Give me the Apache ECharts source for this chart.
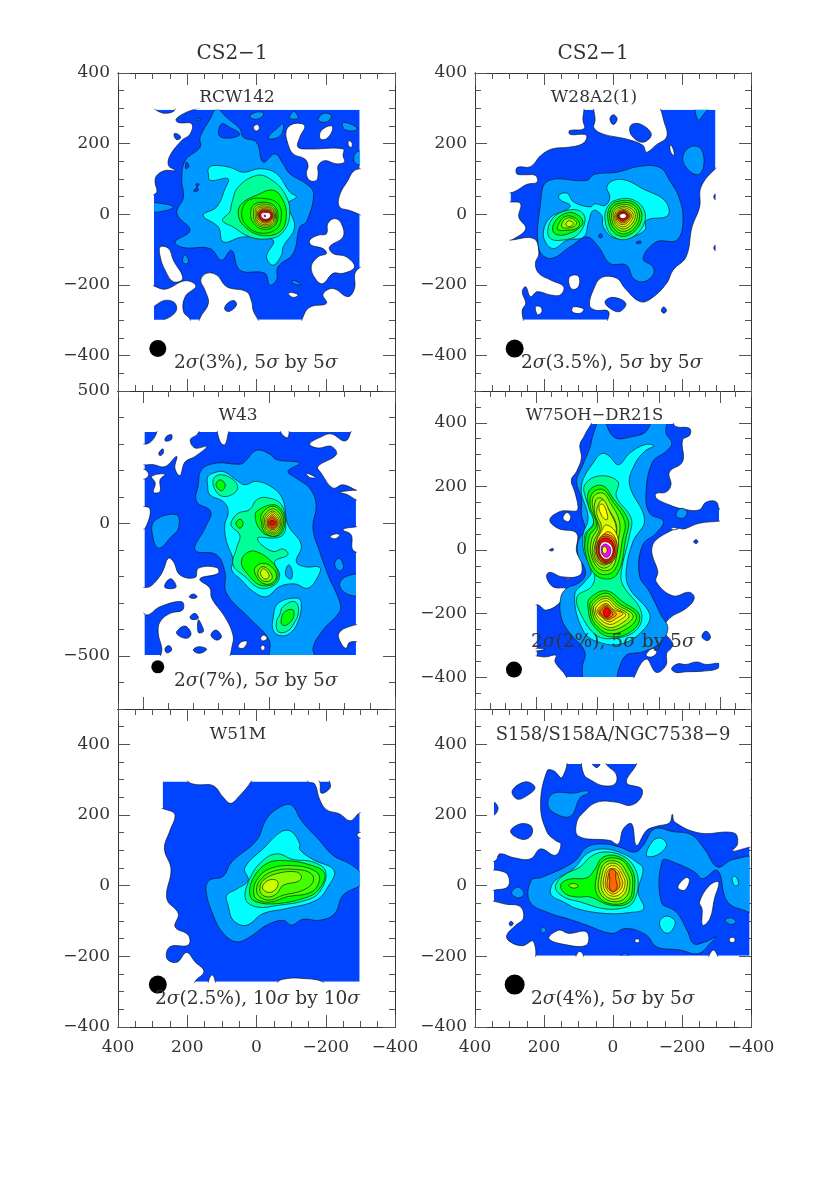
<!DOCTYPE html>
<html><head><meta charset="utf-8">
<style>html,body{margin:0;padding:0;background:#fff}#c{width:831px;height:1186px}</style>
<script src="https://cdn.jsdelivr.net/npm/echarts@6/dist/echarts.min.js"></script>
</head><body><div id="c"></div>
<script>
const levelColors=['#ffffff','#0044ff','#0099ff','#00ffff','#00ff99','#00ff00','#44ff00','#88ff00','#ccff00','#ffff00','#ffcc00','#ff9900','#ff6600','#ff0000','#ff00ff','#ffffff'];

const rcw142Box=[296,-298,296,-298];
const rcw142Contours=[
[0,[307,303,283,291,264,286,240,291,230,303,163,303,202,289,232,270,226,260,187,256,192,227,216,209,250,166,254,138,235,124,264,124,288,110,293,91,288,63,307,56]],
[1,[238,228,225,226,219,216,232,212]],
[0,[-86,237,-106,256,-139,251,-125,218,-120,190,-154,185,-250,185,-250,166,-254,148,-230,143,-197,152,-178,138,-178,115,-173,96,-154,96,-144,115,-149,138,-139,157,-106,171,-91,199]],
[0,[-187,237,-216,251,-219,237,-202,214,-184,214]],
[0,[-266,208,-276,202,-274,190,-266,194]],
[0,[9,247,-3,254,-8,242,2,236]],
[0,[-307,124,-283,124,-264,96,-240,54,-240,21,-269,11,-293,2,-307,-3]],
[2,[-307,180,-285,172,-282,150,-295,140,-307,140]],
[0,[-154,-73,-178,-59,-202,-55,-206,-26,-226,-12,-245,-26,-250,-64,-211,-92,-221,-111,-259,-120,-283,-149,-250,-167,-221,-167,-192,-196,-173,-186,-158,-149,-178,-120,-202,-111,-192,-97,-158,-87]],
[0,[-134,-318,-139,-280,-158,-261,-202,-252,-192,-226,-221,-210,-264,-233,-283,-210,-286,-163,-317,-149,-317,-318]],
[0,[165,-318,163,-294,139,-252,149,-214,161,-186,144,-167,115,-172,86,-205,29,-219,14,-247,10,-271,-7,-318]],
[1,[65,-244,58,-257,79,-275,92,-268,84,-252]],
[0,[312,-203,264,-212,206,-188,175,-203,206,-233,211,-275,192,-297,192,-318,312,-318]],
[1,[307,-275,283,-252,259,-243,235,-252,233,-275,264,-297,307,-306]],
[0,[278,-92,254,-97,240,-130,213,-181,240,-191,264,-158,278,-120]],
[0,[-92,-224,-106,-222,-120,-229,-105,-235]],
[2,[20,278,0,289,-20,287,-15,275,5,269]],
[2,[-95,275,-108,291,-120,272,-100,270]],
[2,[-178,270,-195,286,-216,280,-205,263,-185,262]],
[2,[-248,258,-265,258,-290,245,-285,237,-255,240]],
[2,[-34,218,-58,242,-77,256,-72,227,-48,213]],
[2,[175,270,160,268,172,265]],
[2,[-105,-187,-125,-195,-128,-200,-105,-195]],
[2,[208,-115,197,-127,200,-140,213,-135]],
[2,[307,30,270,30,240,21,269,9,307,9]],
[2,[115,298,134,270,163,218,163,190,206,152,216,96,211,49,230,2,192,-45,235,-78,211,-94,134,-97,101,-130,72,-102,48,-158,-24,-167,-38,-200,-58,-186,-62,-149,-106,-111,-125,-36,-144,-22,-165,58,-144,86,-96,115,-77,143,-53,171,-19,148,0,204,38,218,48,242,86,274]],
[1,[101,256,77,246,48,227,77,216,108,223]],
[1,[202,148,195,135,205,130]],
[1,[165,85,182,66,168,68,175,85]],
[3,[139,129,125,138,77,133,38,119,-10,129,-58,115,-96,63,-115,49,-91,30,-110,-36,-77,-92,-72,-116,-48,-144,-29,-120,-48,-73,38,-64,96,-78,110,-36,154,-3,115,21,91,72,82,101,134,96,139,115]],
[4,[72,30,53,77,0,110,-38,101,-82,58,-96,2,-77,-50,-38,-69,19,-64,67,-36,98,-17,77,7]],
[5,[43,30,0,54,-48,68,-77,39,-86,-8,-67,-50,-10,-59,38,-31,53,2]],
[5,[24,39,-29,44,-62,30,-72,-3,-58,-41,-10,-53,29,-31,43,2]],
[6,[8,27,-28,34,-54,21,-62,-5,-52,-33,-18,-42,8,-25,17,0]],
[7,[3,23,-26,29,-51,18,-58,-5,-50,-29,-20,-37,2,-24,9,0]],
[8,[-1,19,-25,24,-48,15,-55,-5,-47,-26,-21,-33,-2,-22,4,0]],
[9,[-4,16,-25,20,-46,13,-52,-5,-45,-23,-22,-29,-5,-20,0,-1]],
[10,[-7,13,-25,16,-44,11,-50,-5,-43,-20,-23,-25,-8,-18,-3,-2]],
[12,[-9,10,-25,13,-42,9,-47,-5,-41,-17,-24,-22,-11,-16,-6,-3]],
[13,[-11,8,-25,10,-40,7,-45,-5,-39,-15,-25,-19,-13,-14,-8,-4]],
[15,[-15,3,-27,5,-38,3,-41,-5,-35,-12,-25,-14,-16,-10,-13,-4]],
[14,[-22,-3,-25,-2,-27,-5,-25,-7,-22,-6]]
];

const w28Box=[297,-297,296,-298];
const w28Contours=[
[0,[316,312,92,312,87,265,84,242,126,237,124,226,81,226,76,216,90,199,129,190,177,185,210,166,239,135,277,133,279,115,258,112,225,110,220,91,249,85,282,66,301,60,316,60]],
[0,[316,35,297,35,268,30,273,-8,253,-40,287,-69,316,-78]],
[0,[316,-76,297,-73,229,-69,215,-111,225,-139,215,-167,181,-186,143,-205,153,-228,181,-228,220,-219,239,-233,253,-205,263,-219,253,-252,263,-271,263,-318,316,-318]],
[0,[225,-262,210,-262,206,-275,218,-284]],
[0,[115,-262,85,-268,95,-280,118,-276]],
[0,[124,-175,100,-175,100,-205,118,-212,128,-195]],
[0,[13,-318,13,-275,52,-271,68,-257,57,-214,33,-179,-11,-181,-35,-210,-78,-247,-111,-238,-155,-196,-174,-158,-212,-120,-229,-36,-251,21,-255,77,-297,129,-327,143,-327,-318]],
[1,[23,-247,-1,-235,-37,-252,-20,-275,9,-266]],
[1,[-147,-262,-155,-272,-147,-280,-140,-272]],
[1,[-297,58,-292,50,-297,41]],
[1,[-297,-87,-292,-95,-297,-103]],
[0,[49,312,52,265,55,244,28,227,-39,213,-87,195,-97,176,-126,197,-155,218,-150,256,-121,312]],
[1,[-51,251,-78,256,-111,227,-87,204,-54,223]],
[1,[9,270,-1,282,-12,270,-1,254]],
[0,[-167,197,-176,180,-176,166,-166,180]],
[2,[-241,312,-281,312,-260,279,-246,267]],
[2,[-203,166,-227,192,-255,185,-263,138,-246,112,-212,133]],
[2,[189,94,76,96,55,113,-11,119,-78,136,-137,132,-164,96,-191,49,-203,-17,-185,-73,-126,-78,-87,-125,-116,-149,-116,-172,-87,-191,-59,-181,-39,-144,9,-139,42,-92,76,-64,124,-92,181,-125,215,-97,210,30]],
[1,[42,-61,36,-55,30,-61,36,-67]],
[1,[-68,-78,-80,-76,-80,-82,-68,-82]],
[3,[157,54,133,60,114,35,66,21,52,30,23,25,9,49,18,77,-1,96,-39,96,-87,72,-150,39,-159,-3,-97,-17,-92,-45,-44,-66,-1,-66,28,-36,33,-3,57,11,71,-22,85,-64,133,-73,172,-97,196,-78,201,-45,181,-8,138,11,124,25,153,41]],
[4,[81,-17,95,9,133,11,172,-8,189,-45,181,-69,148,-73,104,-59]],
[5,[87,-22,105,0,133,4,164,-15,175,-45,157,-59,124,-53,100,-40]],
[6,[97,-26,114,-8,138,-6,156,-24,160,-43,133,-45,106,-40]],
[7,[106,-22,124,-10,143,-17,148,-36,124,-38,109,-31]],
[8,[116,-24,128,-18,136,-26,132,-34,119,-32]],
[4,[-11,41,-59,41,-92,7,-83,-40,-39,-71,4,-59,23,-17,16,21]],
[5,[-15,37,-59,35,-83,4,-73,-36,-35,-62,-1,-50,15,-12,9,21]],
[6,[-18,31,-54,30,-76,4,-68,-32,-35,-55,-6,-44,9,-12,4,17]],
[7,[-20,26,-50,25,-70,3,-62,-28,-34,-48,-9,-38,4,-11,-1,14]],
[8,[-22,21,-46,20,-64,2,-57,-24,-33,-41,-12,-33,-1,-10,-5,11]],
[9,[-23,17,-43,16,-58,1,-52,-20,-32,-35,-14,-28,-5,-9,-9,8]],
[10,[-24,13,-40,12,-53,0,-48,-17,-31,-29,-16,-24,-8,-8,-12,6]],
[11,[-25,10,-38,9,-49,-1,-45,-14,-31,-24,-18,-20,-11,-8,-14,4]],
[12,[-26,8,-36,7,-46,-2,-42,-12,-30,-20,-19,-17,-13,-7,-16,3]],
[13,[-27,6,-35,5,-43,-3,-40,-11,-30,-17,-20,-14,-15,-6,-18,2]],
[15,[-28,2,-34,2,-39,-4,-36,-9,-29,-12,-22,-10,-19,-5,-21,0]]
];

const w43Box=[495,-345,345,-496];
const w43Contours=[
[0,[512,300,486,300,462,316,446,345,446,367,277,367,284,338,313,316,294,285,248,291,294,253,334,232,354,181,374,209,367,253,413,215,459,222,512,228]],
[1,[387,335,407,329,413,312,389,316]],
[1,[422,282,438,266,433,256,420,266]],
[0,[466,178,413,186,433,165,433,121,459,118,452,152]],
[0,[512,203,492,203,478,184,492,169,512,169]],
[0,[512,58,473,55,492,-18,512,-18]],
[0,[202,367,195,310,176,297,162,341,156,367]],
[0,[-42,367,-53,335,-75,325,-75,367]],
[0,[-339,367,-304,312,-247,338,-211,329,-161,300,-194,285,-247,291,-267,260,-194,215,-207,190,-253,134,-293,146,-372,127,-385,367]],
[0,[-280,118,-372,121,-372,83,-346,89,-313,108]],
[0,[-148,190,-185,174,-161,174]],
[0,[-293,-24,-326,-15,-372,-18,-372,-106,-333,-100,-326,-43]],
[0,[-243,-49,-267,-39,-280,-45,-260,-58]],
[0,[-124,10,-145,24,-145,14]],
[0,[-277,-415,-319,-389,-372,-386,-372,-440,-319,-449,-306,-471,-286,-452]],
[0,[512,-247,473,-238,440,-207,420,-175,400,-131,380,-144,354,-194,294,-204,281,-169,209,-166,202,-188,275,-209,235,-244,228,-282,176,-352,145,-415,145,-455,176,-520,426,-520,426,-471,440,-415,433,-371,393,-339,343,-326,347,-295,433,-314,486,-345,512,-307]],
[1,[407,-219,387,-209,370,-241,413,-242]],
[1,[317,-276,301,-266,286,-276,301,-283]],
[1,[314,-352,294,-339,281,-358,307,-362]],
[1,[281,-364,268,-383,261,-408,281,-411]],
[1,[367,-408,334,-387,310,-415,325,-433,360,-423]],
[1,[231,-421,211,-402,189,-427,209,-440]],
[1,[413,-471,396,-461,387,-478,407,-488]],
[1,[301,-478,281,-465,248,-474,275,-490]],
[0,[123,-465,109,-446,87,-446,103,-471]],
[0,[34,-433,21,-421,8,-433,24,-443]],
[0,[34,-469,25,-459,16,-469,25,-479]],
[2,[457,8,367,33,360,-18,387,-49,436,-93,459,-62]],
[2,[-260,-156,-277,-131,-296,-163,-280,-179]],
[2,[-280,-232,-306,-200,-372,-197,-372,-267,-313,-267]],
[2,[103,228,50,276,-3,262,-29,241,-121,228,-75,197,-108,171,-161,134,-187,71,-174,-18,-201,-106,-234,-194,-280,-295,-280,-333,-214,-402,-174,-471,-187,-522,-9,-522,0,-440,77,-358,169,-263,176,-181,209,-118,294,-100,255,-18,232,45,288,83,281,146,268,203,209,228,129,224]],
[3,[242,178,209,194,176,194,123,159,96,146,50,159,-16,134,-55,89,-75,-5,-128,-81,-108,-144,-141,-163,-201,-166,-194,-200,-154,-244,-102,-228,-42,-238,11,-276,63,-257,110,-213,149,-175,143,-137,169,-68,176,-5,162,45,182,83,235,108,244,146]],
[2,[-65,-181,-78,-156,-92,-181,-88,-209,-69,-200]],
[3,[-16,-358,-36,-301,-115,-282,-128,-307,-115,-370,-82,-415,-42,-423,-16,-402]],
[4,[-42,-345,-55,-314,-102,-295,-117,-333,-95,-383,-69,-408,-36,-408,-29,-370]],
[5,[-49,-358,-62,-333,-95,-326,-95,-358,-69,-383,-51,-381]],
[4,[222,165,189,184,136,159,127,127,169,102,206,115]],
[5,[211,146,195,165,174,146,189,123]],
[4,[149,8,123,39,77,52,50,89,11,98,-49,71,-66,-5,-55,-43,-16,-55,44,-53,37,-74,-16,-106,-55,-96,-75,-118,-22,-144,-42,-194,-22,-232,37,-244,96,-200,143,-156,129,-93,116,-43,149,-11]],
[5,[110,-150,90,-112,50,-106,-16,-150,-36,-194,-16,-229,37,-232,77,-200]],
[6,[57,-169,24,-150,-16,-169,-29,-200,-9,-226,24,-226,50,-200]],
[7,[44,-181,24,-163,-3,-181,-12,-207,11,-219,37,-207]],
[8,[34,-184,21,-171,0,-194,8,-209,26,-204]],
[5,[132,1,116,16,103,1,116,-18]],
[5,[50,45,-16,71,-55,45,-62,-5,-42,-43,11,-43,44,-11,54,20]],
[6,[30,35,-13,65,-50,40,-57,0,-40,-38,-13,-48,20,-30,30,0]],
[7,[20,30,-13,55,-44,35,-51,2,-36,-32,-13,-40,14,-26,24,2]],
[8,[14,26,-13,47,-38,30,-46,3,-33,-27,-13,-34,9,-22,18,3]],
[9,[9,22,-13,41,-33,26,-41,4,-30,-23,-13,-28,5,-19,13,4]],
[10,[5,18,-13,34,-29,22,-36,4,-27,-19,-13,-23,2,-16,8,4]],
[11,[2,15,-13,28,-25,19,-32,4,-25,-15,-13,-19,0,-13,5,4]],
[12,[0,12,-13,22,-23,15,-29,4,-23,-12,-13,-15,-2,-10,2,4]],
[13,[-3,8,-13,13,-21,10,-24,4,-21,-5,-13,-8,-5,-5,-2,4]]
];

const w75Box=[199,-396,396,-399];
const w75Contours=[
[0,[221,416,21,416,42,362,58,331,53,289,69,247,86,220,75,184,64,136,69,123,91,123,123,121,156,95,129,68,69,53,69,-5,53,-37,58,-79,118,-84,156,-70,167,-84,145,-116,102,-123,121,-163,167,-189,194,-173,221,-173]],
[0,[221,-310,172,-312,194,-317,221,-317]],
[0,[221,-339,167,-336,136,-331,139,-352,102,-399,102,-425,221,-425]],
[0,[113,100,100,118,88,105,96,89]],
[1,[158,0,145,5,147,-3]],
[0,[102,-91,93,-89,94,-93]],
[0,[-250,416,-253,389,-299,383,-301,362,-277,346,-277,278,-234,245,-239,205,-223,182,-191,178,-191,163,-234,142,-277,129,-331,126,-353,150,-386,152,-399,126,-418,126,-418,416]],
[0,[-418,95,-399,91,-331,84,-288,68,-277,66,-261,68,-234,58,-191,32,-178,11,-178,-16,-196,-68,-191,-100,-245,-144,-299,-133,-315,-152,-288,-184,-234,-215,-216,-252,-245,-294,-239,-310,-225,-325,-223,-362,-191,-385,-158,-343,-117,-404,-117,-425,-418,-425]],
[0,[-158,-331,-177,-310,-193,-320,-177,-336]],
[1,[-241,-373,-261,-358,-288,-360,-323,-352,-353,-360,-396,-357,-391,-373,-343,-381,-288,-383,-255,-385]],
[1,[-340,-273,-353,-255,-368,-273,-358,-285]],
[1,[-313,26,-321,33,-327,26,-321,20]],
[0,[-239,68,-250,71,-261,66,-247,64]],
[2,[-256,115,-272,131,-291,121,-283,102,-261,102]],
[2,[-12,416,-55,354,-115,357,-158,373,-185,416,-223,416,-223,368,-242,336,-223,310,-180,278,-158,184,-169,116,-214,91,-191,53,-147,16,-136,-79,-169,-131,-207,-205,-229,-247,-201,-294,-147,-320,-93,-331,-71,-368,-50,-425,37,-425,50,-373,42,-320,91,-262,118,-215,121,-152,102,-121,64,-105,42,-84,42,-58,64,-16,64,26,42,68,53,110,53,163,69,215,48,268,26,320,13,368]],
[3,[-17,304,-39,294,-68,268,-104,304,-153,331,-183,328,-153,310,-120,268,-104,205,-153,95,-115,26,-93,-68,-104,-121,-169,-200,-153,-247,-82,-294,-1,-289,48,-252,75,-142,42,-100,21,-68,45,-5,48,47,31,100,53,200,4,289]],
[4,[42,205,-6,233,-66,215,-61,168,-109,100,-104,47,-77,-68,-82,-110,-142,-194,-126,-252,-50,-278,4,-268,53,-205,67,-147,21,-116,10,-79,37,-16,42,47,13,89,39,163]],
[5,[26,189,-17,202,-50,163,-99,95,-93,42,-61,-79,-1,-84,37,-21,37,47,13,84,31,142]],
[6,[17,179,-17,190,-45,158,-88,89,-82,37,-55,-63,-6,-74,28,-21,28,42,4,79,24,137]],
[7,[13,168,-17,179,-39,152,-71,89,-66,26,-50,-53,-12,-63,20,-21,20,32,-1,74,15,126]],
[7,[6,158,-12,163,-30,137,-61,79,-55,16,-45,-42,-15,-56,15,-21,13,26,-6,68,10,116]],
[8,[0,137,-17,158,-39,121,-61,68,-50,16,-39,-37,-15,-47,10,-21,6,26,-12,74,2,110]],
[9,[-4,137,-17,144,-32,110,-30,95,-15,105]],
[9,[-28,79,-61,52,-66,5,-45,-37,-12,-42,6,-16,4,26,-12,58]],
[10,[-34,58,-58,37,-61,0,-45,-31,-15,-37,2,-16,1,21,-15,42]],
[11,[-26,50,-54,36,-64,0,-48,-36,-15,-40,0,-16,0,20,-10,42]],
[12,[-26,44,-50,32,-60,0,-46,-34,-17,-38,1,-16,1,18,-9,37]],
[13,[-26,38,-46,28,-55,0,-44,-30,-20,-35,-4,-14,-3,16,-10,32]],
[15,[-26,26,-42,18,-50,-2,-40,-24,-22,-28,-8,-12,-7,10,-13,22]],
[14,[-25,19,-38,12,-43,-2,-36,-20,-24,-22,-13,-10,-12,8,-17,16]],
[9,[-22,11,-30,4,-29,-8,-22,-11,-16,-6,-16,5]],
[5,[26,-152,-28,-128,-82,-163,-136,-205,-115,-252,-39,-273,15,-236,31,-184]],
[6,[21,-163,-28,-136,-71,-168,-126,-205,-104,-242,-39,-263,10,-231,24,-189]],
[7,[15,-168,-28,-145,-66,-173,-115,-205,-93,-234,-39,-252,4,-226,17,-194]],
[8,[10,-173,-28,-152,-61,-178,-102,-205,-82,-228,-39,-244,-1,-221,12,-194]],
[9,[4,-178,-28,-160,-55,-182,-91,-203,-71,-221,-39,-234,-6,-215,6,-196]],
[10,[-1,-184,-28,-168,-50,-186,-82,-200,-61,-215,-37,-226,-12,-210,1,-196]],
[11,[-6,-186,-28,-173,-48,-189,-61,-203,-45,-215,-30,-218,-12,-207,-4,-196]],
[12,[-10,-190,-28,-178,-44,-192,-50,-203,-40,-212,-30,-214,-15,-205,-8,-197]],
[13,[-30,-182,-40,-190,-41,-200,-34,-210,-24,-208,-19,-198,-21,-187]]
];

const w51Box=[271,-298,295,-272];
const w51Contours=[
[0,[293,212,250,212,235,198,250,156,266,104,247,48,259,-37,226,-79,235,-117,197,-140,197,-168,250,-173,259,-206,230,-217,202,-189,178,-215,152,-243,178,-272,178,-290,293,-290]],
[0,[202,311,197,294,173,286,125,283,96,250,75,233,53,250,14,297,14,311]],
[0,[-149,311,-149,294,-168,288,-182,245,-202,215,-240,203,-271,184,-298,206,-317,206,-317,311,-211,311,-213,278,-187,262,-182,294,-163,311]],
[0,[-290,144,-302,151,-302,134]],
[0,[136,-262,127,-253,119,-272,119,-290,139,-290]],
[0,[-58,-290,-62,-272,-82,-264,-125,-262,-192,-272,-192,-290]],
[2,[146,-13,136,15,96,27,72,67,0,128,-29,189,-67,222,-101,228,-130,184,-182,128,-221,86,-274,59,-307,29,-307,6,-250,-27,-226,-79,-182,-98,-134,-95,-101,-112,-77,-98,-29,-112,19,-145,58,-159,96,-135,125,-84]],
[3,[86,-27,58,-10,24,15,34,50,-24,109,-72,153,-101,153,-125,118,-125,102,-163,74,-224,43,-206,-4,-173,-41,-86,-65,-19,-79,29,-112,67,-98,82,-55]],
[4,[32,-37,19,20,-14,67,-58,90,-106,74,-163,67,-200,39,-182,-18,-144,-41,-67,-55,0,-60]],
[5,[19,-27,10,20,-29,62,-77,71,-154,59,-197,34,-178,-13,-139,-35,-58,-51,0,-46]],
[6,[8,-23,0,15,-38,48,-115,56,-173,39,-182,15,-158,-18,-86,-32,-43,-46,-5,-41]],
[6,[0,-13,-10,15,-48,41,-115,46,-158,34,-163,10,-134,-13,-77,-27,-38,-41,-10,-32]],
[7,[-10,-4,-19,15,-58,34,-115,39,-130,25,-120,12,-77,1,-58,-23,-34,-32,-14,-23]],
[8,[-17,-4,-34,15,-58,15,-62,1,-48,-16,-29,-18]]
];

const s158Box=[345,-396,344,-198];
const s158Contours=[
[0,[364,71,340,71,328,90,287,79,239,76,210,104,167,86,151,118,167,128,191,151,210,227,191,325,172,325,148,306,141,363,364,363]],
[1,[292,269,253,294,226,278,249,255,278,245]],
[1,[297,153,268,175,237,168,237,142,263,131]],
[1,[345,236,333,219,345,200,355,218]],
[0,[85,363,85,316,61,297,28,283,-6,288,-9,316,20,344,20,363]],
[1,[61,347,37,347,47,334]],
[0,[-68,363,-68,344,-39,292,-83,274,-78,245,-49,227,-11,236,47,236,85,208,105,180,100,140,9,128,-15,118,-30,161,-54,175,-68,114,-97,156,-126,168,-164,178,-172,202,-179,180,-251,149,-351,149,-361,118,-346,98,-396,109,-423,114,-423,363]],
[2,[189,236,172,262,114,262,76,269,71,262,95,249,124,196,177,210]],
[0,[364,39,316,39,301,20,306,-4,334,-11,364,-11]],
[0,[364,-51,306,-53,268,-60,260,-93,282,-112,308,-140,301,-157,263,-170,231,-157,234,-215,364,-215]],
[1,[301,-107,295,-101,289,-108,297,-114]],
[0,[186,-149,157,-126,129,-135,77,-131,77,-168,143,-166]],
[0,[109,-215,100,-187,88,-192,87,-215]],
[2,[210,-126,202,-118,194,-126,202,-134]],
[0,[-65,-152,-75,-152,-75,-160,-65,-160]],
[0,[-339,-148,-352,-148,-352,-159,-339,-159]],
[2,[-20,-201,-35,-192,-46,-201]],
[0,[-275,-215,-291,-182,-306,-215]],
[2,[294,-20,275,-4,258,-23,275,-35]],
[0,[-188,-4,-212,23,-222,15,-207,-13]],
[0,[-251,-46,-280,1,-306,10,-294,-37,-281,-93,-260,-112,-258,-65]],
[2,[241,-46,237,15,205,24,114,67,76,109,28,118,-20,109,-63,95,-87,114,-121,161,-174,153,-227,144,-265,104,-303,53,-347,74,-423,74,-423,-93,-395,-76,-332,-46,-303,43,-260,20,-236,39,-174,67,-143,71,-140,-46,-183,-74,-217,-131,-233,-164,-265,-160,-299,-145,-285,-160,-248,-192,-193,-182,-126,-173,-97,-140,-39,-121,4,-135,76,-112,133,-93,181,-79]],
[2,[-325,-98,-342,-91,-356,-102,-342,-110]],
[3,[-97,86,-117,128,-140,134,-155,114,-126,86]],
[3,[-135,-102,-155,-86,-180,-102,-164,-133,-145,-129]],
[3,[-345,20,-354,27,-364,6,-354,-1]],
[3,[181,-10,167,15,114,48,76,90,28,104,-30,90,-68,67,-87,48,-73,-18,-89,-65,-49,-76,18,-79,105,-65,143,-46,177,-29]],
[4,[167,-4,143,29,95,53,66,81,28,95,-25,86,-59,57,-73,10,-59,-46,-30,-63,28,-65,95,-46,143,-32]],
[5,[152,1,129,18,76,22,55,43,28,81,-20,81,-54,48,-63,6,-49,-46,9,-55,66,-32,105,-32,138,-23]],
[6,[47,29,28,71,-20,75,-49,43,-57,6,-44,-41,9,-51,47,-23]],
[7,[39,29,23,65,-15,67,-39,39,-49,6,-35,-35,7,-44,39,-18]],
[8,[32,29,18,59,-12,61,-33,34,-42,6,-28,-29,7,-37,32,-13]],
[9,[26,24,13,53,-10,54,-28,29,-35,6,-22,-23,6,-29,26,-8]],
[10,[21,20,12,46,-10,46,-23,24,-28,3,-15,-18,5,-23,21,-4]],
[11,[16,15,9,39,-8,40,-17,20,-20,1,-10,-13,4,-16,16,-4]],
[12,[9,15,10,43,-6,43,-8,20,-12,-4,1,-18,10,-4]],
[7,[128,1,114,6,100,-1,114,-7]]
];

const beamX=[285,285,442,273,285,285];
const beamY=[-380,-380,-541,-376,-280,-280];
const panelNames=['RCW142','W28A2(1)','W43','W75OH\u2212DR21S','W51M','S158/S158A/NGC7538\u22129'];
const sensitivity=['3%','3.5%','7%','2%','2.5%','4%'];
const boxStep=['5','5','5','5','10','5'];
const xRanges=[[400,-400],[400,-400],[600,-500],[400,-500],[400,-400],[400,-400]];
const yRanges=[[400,-500],[400,-500],[500,-700],[500,-500],[500,-400],[500,-400]];
const xMajor=[[400,200,0,-200,-400],[400,200,0,-200,-400],[500,0,-500],[400,200,0,-200,-400],[400,200,0,-200,-400],[400,200,0,-200,-400]];
const yMajor=[[400,200,0,-200,-400],[400,200,0,-200,-400],[500,0,-500],[400,200,0,-200,-400],[400,200,0,-200,-400],[400,200,0,-200,-400]];
const minorStep=[50,50,100,50,50,50];
const allContours=[rcw142Contours,w28Contours,w43Contours,w75Contours,w51Contours,s158Contours];
const allBoxes=[rcw142Box,w28Box,w43Box,w75Box,w51Box,s158Box];

const rects=[[118,73,277,318],[475,73,276,318],[118,391,277,318],[475,391,276,318],[118,709,277,318],[475,709,276,318]];
const beamSize=[17,18,13,16,18,20];
const FONT='"DejaVu Serif"',INK='#333';
const fmt=v=>String(v).replace('-','\u2212');
function minorVals(a,b,s){const r=[];for(let v=Math.ceil(b/s)*s;v<=a;v+=s)r.push(v);return r;}

const grids=[],xAxes=[],yAxes=[],series=[],graphics=[];
rects.forEach((r,i)=>{
  grids.push({left:r[0],top:r[1],width:r[2],height:r[3]});
  const [xa,xb]=xRanges[i],[ya,yb]=yRanges[i];
  const base={gridIndex:i,type:'value',splitLine:{show:false},axisLine:{show:true,onZero:false,lineStyle:{color:INK,width:1}}};
  const lab=(show,vals,extra)=>Object.assign({show,customValues:vals,formatter:fmt,fontFamily:FONT,fontSize:17,color:INK,hideOverlap:false,showMinLabel:true,showMaxLabel:true},extra);
  const mk=(pos,vals,len)=>Object.assign({},base,{position:pos,axisTick:{show:true,inside:true,length:len,customValues:vals,lineStyle:{color:'#555',width:1}},axisLabel:{show:false}});
  ['bottom','top'].forEach((p,k)=>{
    const a=mk(p,xMajor[i],12); a.min=xb;a.max=xa;a.inverse=true;
    if(i>=4&&k===0)a.axisLabel=lab(true,xMajor[i],{margin:12});
    xAxes.push(a);
    const b=mk(p,minorVals(xa,xb,minorStep[i]),6); b.min=xb;b.max=xa;b.inverse=true; xAxes.push(b);
  });
  ['left','right'].forEach((p,k)=>{
    const a=mk(p,yMajor[i],12); a.min=yb;a.max=ya;
    if(k===0)a.axisLabel=lab(true,yMajor[i],{margin:8,padding:[5,0,0,0]});
    yAxes.push(a);
    const b=mk(p,minorVals(ya,yb,minorStep[i]),6); b.min=yb;b.max=ya; yAxes.push(b);
  });
  const xi=i*4, yi=i*4;
  const box=allBoxes[i];
  const items=[[1,[box[0],box[2],box[1],box[2],box[1],box[3],box[0],box[3]]]].concat(allContours[i]);
  series.push({
    type:'custom',coordinateSystem:'cartesian2d',xAxisIndex:xi,yAxisIndex:yi,z:2,silent:true,animation:false,
    data:items.map(c=>[c[1][0],c[1][1]]),encode:{x:0,y:1},
    renderItem:(params,api)=>{
      const c=items[params.dataIndex],pts=[];
      for(let k=0;k<c[1].length;k+=2)pts.push(api.coord([c[1][k],c[1][k+1]]));
      const p0=api.coord([box[0],box[2]]),p1=api.coord([box[1],box[3]]);
      const isBase=params.dataIndex===0,pad=c[0]===0?1:0;
      return {type:'polygon',shape:{points:pts,smooth:isBase?0:0.4},
        clipPath:{type:'rect',shape:{x:p0[0]-pad,y:p0[1]-pad,width:p1[0]-p0[0]+2*pad,height:p1[1]-p0[1]+2*pad}},
        style:{fill:levelColors[c[0]],stroke:isBase?null:'#111',lineWidth:isBase?0:0.65}};
    }
  });
  series.push({type:'scatter',xAxisIndex:xi,yAxisIndex:yi,z:5,silent:true,animation:false,symbol:'circle',symbolSize:beamSize[i],itemStyle:{color:'#000',opacity:1},data:[[beamX[i],beamY[i]]]});
});

const nameTop=[98,98,416,416,735,735],nameCx=[237,594,238,594.5,238,613],nameSize=[17,17,17,16.5,17,18];
const noteLeft=[174,521,174,531,155,531],noteTop=[363,363,681,642,999,999];
const NOTE=18.6;
const rich={i:{fontStyle:'italic',fontFamily:FONT,fontSize:NOTE,fill:INK}};
rects.forEach((r,i)=>{
  graphics.push({type:'text',z:10,x:nameCx[i],y:nameTop[i],style:{text:panelNames[i],font:nameSize[i]+'px '+FONT,fill:INK,align:'center',verticalAlign:'middle'}});
  graphics.push({type:'text',z:10,x:noteLeft[i],y:noteTop[i],style:{text:'2{i|\u03c3}('+sensitivity[i]+'), '+boxStep[i]+'{i|\u03c3} by '+boxStep[i]+'{i|\u03c3}',font:NOTE+'px '+FONT,fill:INK,align:'left',verticalAlign:'middle',rich}});
});
['CS2\u22121','CS2\u22121'].forEach((t,i)=>graphics.push({type:'text',z:10,x:i?593:232,y:54,style:{text:t,font:'20px '+FONT,fill:INK,align:'center',verticalAlign:'middle'}}));

echarts.init(document.getElementById('c'),null,{renderer:'canvas'}).setOption({
  animation:false,backgroundColor:'#fff',grid:grids,xAxis:xAxes,yAxis:yAxes,series,graphic:graphics
});
</script></body></html>
